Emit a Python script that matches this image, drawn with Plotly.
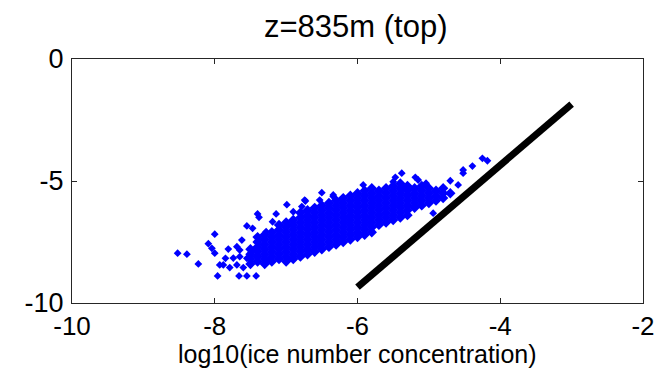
import plotly.graph_objects as go

# ---- data ----
# dense core of the scatter cloud: one x per column, list of y values per column
core_col_x = [-7.5, -7.4, -7.3, -7.2, -7.1, -7.0, -6.9, -6.8, -6.7, -6.6,
              -6.5, -6.4, -6.3, -6.2, -6.1, -6.0, -5.9, -5.8, -5.7, -5.6,
              -5.5, -5.4, -5.3, -5.2, -5.1, -5.0, -4.9, -4.8, -4.7]
core_col_y = [
    [-8.4, -8.2, -8.0, -7.8],
    [-8.3, -8.1, -7.9, -7.7, -7.5, -7.3],
    [-8.4, -8.2, -8.0, -7.8, -7.6, -7.4, -7.2],
    [-8.3, -8.1, -7.9, -7.7, -7.5, -7.3, -7.1],
    [-8.2, -8.0, -7.8, -7.6, -7.4, -7.2, -7.0, -6.8],
    [-8.3, -8.1, -7.9, -7.7, -7.5, -7.3, -7.1, -6.9, -6.7],
    [-8.2, -8.0, -7.8, -7.6, -7.4, -7.2, -7.0, -6.8, -6.6],
    [-8.1, -7.9, -7.7, -7.5, -7.3, -7.1, -6.9, -6.7, -6.5, -6.3],
    [-8.0, -7.8, -7.6, -7.4, -7.2, -7.0, -6.8, -6.6, -6.4, -6.2],
    [-7.9, -7.7, -7.5, -7.3, -7.1, -6.9, -6.7, -6.5, -6.3, -6.1],
    [-7.8, -7.6, -7.4, -7.2, -7.0, -6.8, -6.6, -6.4, -6.2, -6.0],
    [-7.7, -7.5, -7.3, -7.1, -6.9, -6.7, -6.5, -6.3, -6.1, -5.9],
    [-7.6, -7.4, -7.2, -7.0, -6.8, -6.6, -6.4, -6.2, -6.0, -5.8],
    [-7.5, -7.3, -7.1, -6.9, -6.7, -6.5, -6.3, -6.1, -5.9, -5.7],
    [-7.4, -7.2, -7.0, -6.8, -6.6, -6.4, -6.2, -6.0, -5.8, -5.6],
    [-7.3, -7.1, -6.9, -6.7, -6.5, -6.3, -6.1, -5.9, -5.7, -5.5],
    [-7.2, -7.0, -6.8, -6.6, -6.4, -6.2, -6.0, -5.8, -5.6, -5.4],
    [-7.1, -6.9, -6.7, -6.5, -6.3, -6.1, -5.9, -5.7, -5.5, -5.3],
    [-6.8, -6.6, -6.4, -6.2, -6.0, -5.8, -5.6, -5.4],
    [-6.7, -6.5, -6.3, -6.1, -5.9, -5.7, -5.5, -5.3],
    [-6.6, -6.4, -6.2, -6.0, -5.8, -5.6, -5.4, -5.2],
    [-6.5, -6.3, -6.1, -5.9, -5.7, -5.5, -5.3, -5.1],
    [-6.4, -6.2, -6.0, -5.8, -5.6, -5.4, -5.2],
    [-6.1, -5.9, -5.7, -5.5, -5.3],
    [-6.0, -5.8, -5.6, -5.4, -5.2],
    [-5.9, -5.7, -5.5, -5.3],
    [-5.8, -5.6, -5.4],
    [-5.7, -5.5, -5.3],
    [-5.5],
]

# scattered points around the core
sparse_x = [-8.52, -8.39, -8.23, -8.00, -8.09, -8.04, -8.00, -7.96, -7.93, -7.85,
            -7.81, -7.69, -7.66, -7.55, -7.42, -7.62, -7.55, -7.47, -7.40, -7.38,
            -7.28, -7.19, -7.14, -6.99, -6.90, -6.78, -6.73, -6.50, -6.34,
            -7.88, -7.79, -7.69, -7.60, -7.74, -7.65, -7.55, -7.46, -7.65,
            -5.47, -5.38, -5.36, -5.19, -5.15, -5.04, -4.70, -4.59, -4.52, -4.52,
            -4.39, -4.25, -4.18, -4.94, -6.53, -6.74, -6.34, -5.92, -5.50]
sparse_y = [-7.96, -8.00, -8.40, -7.18, -7.57, -7.76, -7.96, -8.89, -8.44, -8.17,
            -7.79, -7.69, -8.89, -8.89, -8.89, -7.42, -6.84, -6.94, -6.35, -6.49,
            -7.08, -6.67, -6.35, -5.97, -6.26, -6.05, -5.82, -5.48, -5.57,
            -8.44, -8.55, -8.44, -8.55, -8.16, -8.10, -8.17, -7.83, -7.83,
            -4.85, -4.68, -5.30, -4.85, -4.96, -5.09, -4.99, -5.16, -4.55, -4.68,
            -4.39, -4.07, -4.17, -6.32, -5.78, -5.78, -5.64, -5.16, -5.03]

# thick black reference line
line_x = [-6.0, -3.0]
line_y = [-9.35, -1.85]

x_ticks = [-10, -8, -6, -4, -2]
y_ticks = [-10, -5, 0]

title_text = "z=835m (top)"
xlabel_text = "log10(ice number concentration)"

# ---- build ----
core_x = []
core_y = []
for cx, ys in zip(core_col_x, core_col_y):
    for yv in ys:
        core_x.append(cx)
        core_y.append(yv)

fig = go.Figure()
fig.add_trace(go.Scatter(x=core_x, y=core_y, mode="markers",
                         marker=dict(symbol="diamond", size=8, color="#0000FF", line=dict(width=0)),
                         hoverinfo="skip", showlegend=False))
fig.add_trace(go.Scatter(x=sparse_x, y=sparse_y, mode="markers",
                         marker=dict(symbol="diamond", size=6, color="#0000FF", line=dict(width=0)),
                         showlegend=False))
fig.add_trace(go.Scatter(x=line_x, y=line_y, mode="lines",
                         line=dict(color="black", width=7), showlegend=False))

font_family = "Liberation Sans, Arial, sans-serif"
fig.update_layout(
    width=660, height=371,
    margin=dict(l=72, r=17, t=59, b=68, autoexpand=False),
    paper_bgcolor="white", plot_bgcolor="white",
    font=dict(family=font_family, color="black"),
    title=dict(text=title_text, x=0.539, xanchor="center", y=0.93, yanchor="middle",
               yref="container", font=dict(size=31, color="black")),
    xaxis=dict(range=[-10, -2], tickvals=x_ticks, ticktext=[str(v) for v in x_ticks],
               ticks="inside", ticklen=5, tickcolor="#262626", showline=True, linecolor="#262626",
               linewidth=1, mirror="ticks", showgrid=False, zeroline=False, automargin=False,
               tickfont=dict(size=26, color="black"), ticklabelstandoff=0),
    yaxis=dict(range=[-10, 0], tickvals=y_ticks, ticktext=[str(v) for v in y_ticks],
               ticks="inside", ticklen=5, tickcolor="#262626", showline=True, linecolor="#262626",
               linewidth=1, mirror="ticks", showgrid=False, zeroline=False, automargin=False,
               tickfont=dict(size=27, color="black"), ticklabelstandoff=2),
    annotations=[dict(text=xlabel_text, xref="paper", yref="paper", x=0.5, y=-0.207,
                      xanchor="center", yanchor="middle", showarrow=False,
                      font=dict(size=25, color="black"))],
)

fig.write_html("out.html", config={"displayModeBar": False},
               post_script="document.body.style.margin='0px';")
